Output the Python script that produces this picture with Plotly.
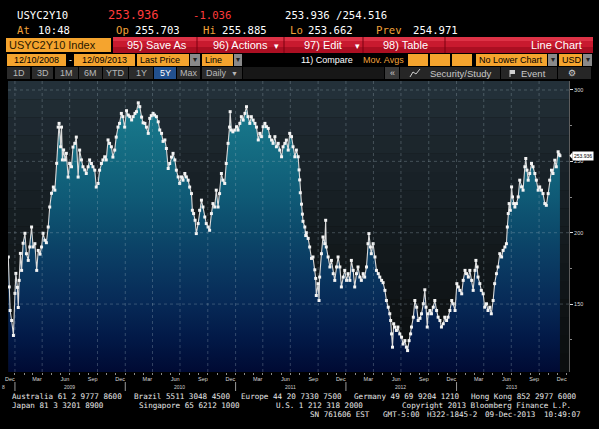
import plotly.graph_objects as go
import pandas as pd

# ---------------- data ----------------
TICKER = "USYC2Y10"
LAST_VALUE = 253.936

DATES_2008 = ["2008-12-10", "2008-12-13", "2008-12-16", "2008-12-21", "2008-12-27"]
VALUES_2008 = [183.0, 162.0, 145.5, 138.5, 128.0]

DATES_2009 = [
    "2009-01-01", "2009-01-04", "2009-01-09", "2009-01-12", "2009-01-15", "2009-01-19", "2009-01-23", "2009-01-28",
    "2009-02-03", "2009-02-08", "2009-02-14", "2009-02-19", "2009-02-25",
    "2009-03-02", "2009-03-08", "2009-03-14", "2009-03-19", "2009-03-25", "2009-03-30",
    "2009-04-04", "2009-04-10", "2009-04-15", "2009-04-21", "2009-04-26",
    "2009-05-02", "2009-05-08", "2009-05-13", "2009-05-19", "2009-05-24", "2009-05-27",
    "2009-06-01", "2009-06-04", "2009-06-07", "2009-06-11", "2009-06-16", "2009-06-20", "2009-06-26",
    "2009-07-01", "2009-07-07", "2009-07-12", "2009-07-18", "2009-07-23", "2009-07-29",
    "2009-08-03", "2009-08-09", "2009-08-14", "2009-08-20", "2009-08-25", "2009-08-31",
    "2009-09-05", "2009-09-11", "2009-09-16", "2009-09-22", "2009-09-27",
    "2009-10-03", "2009-10-08", "2009-10-14", "2009-10-19", "2009-10-25", "2009-10-30",
    "2009-11-05", "2009-11-10", "2009-11-16", "2009-11-21", "2009-11-27",
    "2009-12-02", "2009-12-08", "2009-12-13", "2009-12-19", "2009-12-24", "2009-12-30",
]
VALUES_2009 = [
    157.5, 171.5, 161.7, 147.6, 166.6, 185.5, 173.6, 192.6,
    199.6, 185.3, 180.6, 190.0, 204.0,
    190.0, 192.3, 173.6, 187.6, 185.0, 190.0,
    199.6, 194.7, 193.0, 204.0, 218.0,
    227.6, 232.0, 229.8, 248.6, 274.0, 276.6,
    260.2, 274.0, 251.0, 258.0, 251.0, 255.6, 239.0,
    248.5, 246.2, 260.0, 262.6, 267.0, 239.0,
    257.9, 251.0, 246.2, 244.0, 241.5, 246.2,
    251.0, 248.5, 246.2, 243.8, 232.0,
    234.5, 243.8, 248.5, 251.0, 253.2, 251.0,
    265.0, 262.6, 260.2, 253.0, 257.9,
    267.0, 274.0, 276.6, 283.6, 281.3, 274.0,
]

DATES_2010 = [
    "2010-01-05", "2010-01-11", "2010-01-16", "2010-01-22", "2010-01-27",
    "2010-02-02", "2010-02-07", "2010-02-13", "2010-02-18", "2010-02-24",
    "2010-03-01", "2010-03-07", "2010-03-12", "2010-03-18", "2010-03-23", "2010-03-28",
    "2010-04-03", "2010-04-08", "2010-04-14", "2010-04-20", "2010-04-25",
    "2010-05-01", "2010-05-06", "2010-05-12", "2010-05-17", "2010-05-23", "2010-05-28",
    "2010-06-03", "2010-06-08", "2010-06-14", "2010-06-19", "2010-06-25", "2010-06-30",
    "2010-07-06", "2010-07-11", "2010-07-17", "2010-07-22", "2010-07-28",
    "2010-08-02", "2010-08-08", "2010-08-11", "2010-08-15", "2010-08-20", "2010-08-24", "2010-08-30",
    "2010-09-04", "2010-09-10", "2010-09-15", "2010-09-21", "2010-09-26",
    "2010-10-02", "2010-10-07", "2010-10-13", "2010-10-18", "2010-10-24", "2010-10-29",
    "2010-11-04", "2010-11-09", "2010-11-15", "2010-11-20", "2010-11-26",
    "2010-12-01", "2010-12-07", "2010-12-12", "2010-12-14", "2010-12-18", "2010-12-23", "2010-12-29",
]
VALUES_2010 = [
    285.5, 282.4, 281.3, 279.0, 281.3,
    283.6, 284.8, 291.0, 288.3, 281.0,
    277.0, 276.6, 274.0, 269.6, 280.1, 282.0,
    283.6, 282.4, 281.3, 277.7, 272.0,
    269.6, 264.0, 265.0, 259.0, 245.0, 248.5,
    253.0, 255.6, 251.0, 243.8, 239.1, 234.5,
    239.1, 236.8, 241.5, 239.1, 236.8,
    232.0, 227.4, 215.7, 213.4, 208.7, 199.4, 206.4,
    215.7, 222.8, 218.0, 211.0, 206.4,
    204.0, 201.7, 213.4, 220.4, 218.0, 229.8,
    218.0, 227.4, 241.5, 236.8, 234.5,
    248.5, 262.6, 274.0, 284.8, 271.9, 270.7, 271.9,
]

DATES_2011 = [
    "2011-01-04", "2011-01-09", "2011-01-15", "2011-01-20", "2011-01-26",
    "2011-02-01", "2011-02-06", "2011-02-11", "2011-02-17", "2011-02-22", "2011-02-28",
    "2011-03-06", "2011-03-11", "2011-03-17", "2011-03-22", "2011-03-28",
    "2011-04-02", "2011-04-08", "2011-04-13", "2011-04-19", "2011-04-24", "2011-04-30",
    "2011-05-05", "2011-05-11", "2011-05-16", "2011-05-22", "2011-05-27",
    "2011-06-02", "2011-06-07", "2011-06-13", "2011-06-18", "2011-06-24", "2011-06-29",
    "2011-07-05", "2011-07-10", "2011-07-16", "2011-07-21", "2011-07-27", "2011-07-30",
    "2011-08-01", "2011-08-03", "2011-08-07", "2011-08-10", "2011-08-12", "2011-08-18", "2011-08-21", "2011-08-23", "2011-08-29",
    "2011-09-03", "2011-09-09", "2011-09-14", "2011-09-20", "2011-09-23", "2011-09-25",
    "2011-10-01", "2011-10-04", "2011-10-06", "2011-10-12", "2011-10-17", "2011-10-23", "2011-10-26", "2011-10-28",
    "2011-11-03", "2011-11-09", "2011-11-14", "2011-11-20", "2011-11-25",
    "2011-12-01", "2011-12-06", "2011-12-12", "2011-12-17", "2011-12-23", "2011-12-28",
]
VALUES_2011 = [
    274.3, 271.9, 276.6, 281.3, 278.9,
    283.6, 288.3, 281.3, 276.6, 281.3, 278.9,
    276.6, 274.0, 265.0, 269.6, 267.3,
    274.3, 276.6, 274.3, 273.1, 267.3, 264.9,
    262.6, 267.3, 260.2, 262.6, 257.9,
    253.2, 260.2, 262.6, 264.9, 257.9, 269.6,
    267.3, 260.2, 253.2, 257.9, 253.2, 244.0,
    237.0, 228.0, 220.0, 213.0, 208.0, 204.0, 198.0, 200.0, 196.0,
    190.0, 182.0, 183.0, 174.0, 168.0, 156.0,
    164.3, 152.5, 168.9, 185.3, 197.0, 192.3, 208.7, 190.0,
    183.0, 176.0, 180.6, 171.3, 166.6,
    176.0, 183.0, 176.0, 162.0, 168.9, 173.6,
]

DATES_2012 = [
    "2012-01-03", "2012-01-08", "2012-01-14", "2012-01-19", "2012-01-25", "2012-01-30",
    "2012-02-05", "2012-02-10", "2012-02-16", "2012-02-21", "2012-02-27",
    "2012-03-03", "2012-03-09", "2012-03-14", "2012-03-17", "2012-03-22", "2012-03-25", "2012-03-31",
    "2012-04-06", "2012-04-11", "2012-04-17", "2012-04-22", "2012-04-28",
    "2012-05-03", "2012-05-09", "2012-05-14", "2012-05-20", "2012-05-25", "2012-05-28", "2012-05-31",
    "2012-06-03", "2012-06-07", "2012-06-10", "2012-06-16", "2012-06-21", "2012-06-27",
    "2012-07-03", "2012-07-08", "2012-07-14", "2012-07-19", "2012-07-23", "2012-07-28",
    "2012-08-02", "2012-08-05", "2012-08-11", "2012-08-16", "2012-08-22", "2012-08-27",
    "2012-09-02", "2012-09-07", "2012-09-13", "2012-09-18", "2012-09-22", "2012-09-26", "2012-09-29",
    "2012-10-05", "2012-10-10", "2012-10-16", "2012-10-21", "2012-10-27",
    "2012-11-01", "2012-11-07", "2012-11-12", "2012-11-18", "2012-11-23", "2012-11-29",
    "2012-12-04", "2012-12-10", "2012-12-16", "2012-12-21", "2012-12-27",
]
VALUES_2012 = [
    166.6, 171.3, 166.6, 180.6, 173.6, 162.0,
    171.3, 176.0, 168.9, 166.6, 171.3,
    168.9, 176.0, 192.3, 199.4, 190.0, 185.3, 192.3,
    183.0, 173.6, 171.3, 168.9, 166.6,
    165.0, 159.6, 152.5, 147.8, 143.2, 138.5, 129.1,
    119.8, 136.2, 133.9, 131.5, 133.9, 129.1,
    126.8, 122.0, 124.4, 119.8, 117.4, 124.4,
    129.1, 133.9, 140.8, 152.5, 147.8, 138.5,
    140.0, 143.2, 150.2, 160.0, 147.8, 133.9, 143.2,
    145.5, 143.2, 147.8, 152.5, 145.5,
    140.8, 138.5, 133.9, 136.2, 140.8, 138.5,
    140.8, 145.5, 152.5, 150.2, 145.5,
]

DATES_2013 = [
    "2013-01-02", "2013-01-07", "2013-01-12", "2013-01-18", "2013-01-23", "2013-01-29",
    "2013-02-03", "2013-02-09", "2013-02-14", "2013-02-20", "2013-02-25",
    "2013-03-03", "2013-03-06", "2013-03-10", "2013-03-13", "2013-03-19", "2013-03-24", "2013-03-30",
    "2013-04-04", "2013-04-10", "2013-04-15", "2013-04-21", "2013-04-26",
    "2013-05-02", "2013-05-07", "2013-05-13", "2013-05-18", "2013-05-24", "2013-05-30",
    "2013-06-04", "2013-06-10", "2013-06-15", "2013-06-18", "2013-06-21", "2013-06-24", "2013-06-28",
    "2013-07-02", "2013-07-05", "2013-07-09", "2013-07-13", "2013-07-18", "2013-07-24", "2013-07-29",
    "2013-08-04", "2013-08-09", "2013-08-15", "2013-08-18", "2013-08-22", "2013-08-26", "2013-08-31",
    "2013-09-06", "2013-09-11", "2013-09-17", "2013-09-22", "2013-09-28",
    "2013-10-03", "2013-10-09", "2013-10-14", "2013-10-20", "2013-10-25", "2013-10-31",
    "2013-11-05", "2013-11-11", "2013-11-16", "2013-11-22", "2013-11-27",
    "2013-12-03", "2013-12-06", "2013-12-09",
]
VALUES_2013 = [
    164.3, 162.0, 159.6, 157.2, 166.6, 173.6,
    171.3, 168.9, 173.6, 166.6, 159.6,
    173.6, 180.6, 176.0, 168.9, 164.3, 159.6, 157.2,
    147.8, 150.2, 145.5, 147.8, 143.2,
    152.5, 164.3, 171.3, 176.0, 185.3, 183.0,
    187.6, 190.0, 192.3, 204.0, 213.4, 220.4, 215.7,
    232.1, 225.1, 220.4, 218.0, 220.4, 225.1, 236.8,
    232.1, 229.8, 246.2, 252.0, 243.8, 236.8, 241.5,
    248.5, 246.2, 241.5, 236.8, 229.8,
    232.1, 229.8, 227.4, 220.4, 219.2, 227.4,
    236.8, 243.8, 241.5, 250.8, 246.2,
    256.7, 254.9, LAST_VALUE,
]

Y_TICKS = [150, 200, 250, 300]
Y_MINOR_TICKS = [125, 175, 225, 275]
YEAR_LABELS = ["2009", "2010", "2011", "2012", "2013"]

dates = DATES_2008 + DATES_2009 + DATES_2010 + DATES_2011 + DATES_2012 + DATES_2013
values = VALUES_2008 + VALUES_2009 + VALUES_2010 + VALUES_2011 + VALUES_2012 + VALUES_2013
assert len(dates) == len(values)

# ---------------- geometry / style ----------------
L, R, T, B = 8, 569, 81, 372
PW, PH = R - L, B - T
Y_RANGE = [102.4, 306.3]
X_RANGE = ["2008-12-09", "2014-01-08"]

MONO = "DejaVu Sans Mono"
SANS = "Liberation Sans, Arial, sans-serif"
NARROW = "Liberation Sans Narrow, Liberation Sans, Arial"
ORANGE = "#f5a42e"
ORANGE_TXT = "#f2a33a"
RED_TXT = "#ff3b3b"
DROP_GRAY = "#8a8a8a"

FILL_SCALE = [
    [0.0, "#000a33"], [0.12, "#021947"], [0.25, "#072a57"], [0.38, "#0a3a62"],
    [0.5, "#0c4a6b"], [0.62, "#0f5a76"], [0.75, "#13687f"], [0.88, "#177589"],
    [1.0, "#1b8092"],
]


def px(x):
    return (x - L) / PW


def py(y):
    return (B - y) / PH


shapes = []
annotations = []


def rect(x0, y0, x1, y1, color, layer="above"):
    shapes.append(dict(type="rect", xref="paper", yref="paper",
                       x0=px(x0), x1=px(x1), y0=py(y1), y1=py(y0),
                       fillcolor=color, line=dict(width=0), layer=layer))


def vline(x, y0, y1, color, width=1):
    shapes.append(dict(type="line", xref="paper", yref="paper",
                       x0=px(x), x1=px(x), y0=py(y1), y1=py(y0),
                       line=dict(color=color, width=width), layer="above"))


def label(x, y, text, size, color, family=SANS, anchor="left", bg=None):
    a = dict(xref="paper", yref="paper", x=px(x), y=py(y), text=text,
             showarrow=False, xanchor=anchor, yanchor="middle", borderpad=0,
             font=dict(size=size, color=color, family=family))
    if bg:
        a["bgcolor"] = bg
    annotations.append(a)


# background bands inside plot area (stepped gradient)
top_c = (35, 48, 57)
bot_c = (11, 14, 15)
NB = 16
for i in range(NB):
    f = (i / (NB - 1)) ** 0.75
    c = tuple(int(round(top_c[k] + (bot_c[k] - top_c[k]) * f)) for k in range(3))
    shapes.append(dict(type="rect", xref="paper", yref="paper", x0=0, x1=1,
                       y0=1 - (i + 1) / NB, y1=1 - i / NB,
                       fillcolor="rgb(%d,%d,%d)" % c, line=dict(width=0), layer="below"))

# dotted grid (drawn above the fill as on the terminal)
GRID = "rgba(165,185,195,0.30)"
for d in pd.date_range("2009-01-01", "2013-10-01", freq="QS"):
    ds = d.strftime("%Y-%m-%d")
    shapes.append(dict(type="line", xref="x", yref="paper", x0=ds, x1=ds, y0=0, y1=1,
                       line=dict(color=GRID, width=1, dash="dot"), layer="above"))
for v in Y_TICKS:
    shapes.append(dict(type="line", xref="paper", yref="y", x0=0, x1=1, y0=v, y1=v,
                       line=dict(color=GRID, width=1, dash="dot"), layer="above"))

# year labels & separators under the month labels
for yr in YEAR_LABELS:
    annotations.append(dict(xref="x", yref="paper", x=yr + "-07-01", y=py(387), text=yr,
                            showarrow=False, xanchor="center", yanchor="middle",
                            font=dict(size=5, color="#cfcfcf", family=NARROW)))
    shapes.append(dict(type="line", xref="x", yref="paper", x0=yr + "-01-01", x1=yr + "-01-01",
                       y0=py(391), y1=py(382), line=dict(color="#9a9a9a", width=1), layer="above"))
label(0.5, 387, "8", 5, "#cfcfcf", NARROW)

# last price marker on the right axis
annotations.append(dict(xref="paper", yref="y", x=px(572), y=LAST_VALUE, text="%.3f" % LAST_VALUE,
                        showarrow=False, xanchor="left", yanchor="middle", bgcolor="white",
                        borderpad=1, font=dict(size=5, color="black", family=NARROW)))
ly = B - (LAST_VALUE - Y_RANGE[0]) / (Y_RANGE[1] - Y_RANGE[0]) * PH
shapes.append(dict(type="path", xref="paper", yref="paper",
                   path="M %f %f L %f %f L %f %f Z" % (px(569.5), py(ly), px(572.5), py(ly - 3.5),
                                                       px(572.5), py(ly + 3.5)),
                   fillcolor="white", line=dict(width=0), layer="above"))

# ---------------- header ----------------
label(16, 15, TICKER, 10.6, "white", MONO)
label(107, 15, "253.936", 12, RED_TXT, MONO)
label(192, 15, "-1.036", 10.6, RED_TXT, MONO)
label(284, 15, "253.936 /254.516", 10.6, "white", MONO)

label(16, 30, "At", 10.6, ORANGE_TXT, MONO)
label(37, 30, "10:48", 10.6, "white", MONO)
label(115, 30, "Op", 10.6, ORANGE_TXT, MONO)
label(134, 30, "255.703", 10.6, "white", MONO)
label(202, 30, "Hi", 10.6, ORANGE_TXT, MONO)
label(221, 30, "255.885", 10.6, "white", MONO)
label(289, 30, "Lo", 10.6, ORANGE_TXT, MONO)
label(307, 30, "253.662", 10.6, "white", MONO)
label(375, 30, "Prev", 10.6, ORANGE_TXT, MONO)
label(412, 30, "254.971", 10.6, "white", MONO)

# row 3 : orange ticker box + red menu bar
rect(6, 38, 111, 52, ORANGE)
label(8, 45, TICKER + " Index", 11, "#2a1800", SANS)
rect(113, 37, 593, 41, "#dd3246")
rect(113, 41, 593, 47, "#c81a2f")
rect(113, 47, 593, 53, "#ab0f22")
for xs in (197, 284, 363, 445):
    vline(xs, 37, 53, "#7a0010")
label(157, 45, "95) Save As", 11, "white", SANS, "center")
label(240, 45, "96) Actions", 11, "white", SANS, "center")
label(276, 45.5, "▾", 9, "white", SANS, "center")
label(323, 45, "97) Edit", 11, "white", SANS, "center")
label(357, 45.5, "▾", 9, "white", SANS, "center")
label(405, 45, "98) Table", 11, "white", SANS, "center")
label(583, 45, "Line Chart", 11, "white", SANS, "right")

# row 4 : date range / options
RY = 59.5
rect(7, 54, 66, 66, ORANGE)
label(36.5, RY, "12/10/2008", 9, "black", SANS, "center")
label(70, RY, "-", 9, "white", SANS, "center")
rect(74, 54, 135, 66, ORANGE)
label(104.5, RY, "12/09/2013", 9, "black", SANS, "center")
rect(137, 54, 189, 66, ORANGE)
label(139, RY, "Last Price", 9, "black", SANS)
rect(190, 54, 200, 66, DROP_GRAY)
label(195, RY, "▾", 8, "#222222", SANS, "center")
rect(202, 54, 233, 66, ORANGE)
label(204, RY, "Line", 9, "black", SANS)
rect(234, 54, 242, 66, DROP_GRAY)
label(238, RY, "▾", 8, "#222222", SANS, "center")
label(300, RY, "11) Compare", 9, "white", SANS)
label(362, RY, "Mov. Avgs", 9, ORANGE_TXT, SANS)
for x0 in (408, 430, 452):
    rect(x0, 54, x0 + 20, 66, ORANGE)
rect(476, 54, 547, 66, ORANGE)
label(478, RY, "No Lower Chart", 9, "black", SANS)
rect(548, 54, 557, 66, DROP_GRAY)
label(552.5, RY, "▾", 8, "#222222", SANS, "center")
rect(559, 54, 582, 66, ORANGE)
label(561, RY, "USD", 9, "black", SANS)
rect(583, 54, 592, 66, DROP_GRAY)
label(587.5, RY, "▾", 8, "#222222", SANS, "center")

# row 5 : period buttons
BY = 73
buttons = [("1D", 7, 30), ("3D", 32, 53), ("1M", 55, 78), ("6M", 79, 102), ("YTD", 103, 128),
           ("1Y", 129, 153), ("5Y", 154, 176), ("Max", 177, 200)]
for txt, x0, x1 in buttons:
    sel = txt == "5Y"
    rect(x0, 67, x1, 79, "#22508e" if sel else "#2b2b2b")
    label((x0 + x1) / 2, BY, txt, 9, "white" if sel else "#b8b8b8", SANS, "center")
rect(202, 67, 242, 79, "#2b2b2b")
label(205, BY, "Daily", 9, "#b8b8b8", SANS)
label(234, BY, "▼", 7, "#b8b8b8", SANS, "center")
rect(243, 67, 384, 79, "#171717")
rect(385, 67, 399, 79, "#3a3a3a")
label(392, BY, "«", 9, "#d0d0d0", SANS, "center")
rect(400, 67, 500, 79, "#262626")
shapes.append(dict(type="path", xref="paper", yref="paper",
                   path="M %f %f L %f %f L %f %f L %f %f" % (px(410), py(77), px(413), py(72),
                                                            px(416), py(74), px(420), py(69)),
                   line=dict(color="#d0d0d0", width=1), layer="above"))
label(429, BY, "Security/Study", 9.5, "#c8c8c8", SANS)
rect(501, 67, 557, 79, "#262626")
rect(510, 70, 515, 74, "#d0d0d0")
vline(510, 70, 77, "#d0d0d0")
label(520, BY, "Event", 9.5, "#c8c8c8", SANS)
rect(558, 67, 591, 79, "#262626")
label(572, BY, "⚙", 9, "#d0d0d0", "DejaVu Sans", "center")

# ---------------- footer (segments placed on a fixed character grid) ----------------
NB_SP = "\u00a0"
COL_W = 4.88
FOOT_ROWS = [
    (396, [(0, "Australia 61 2 9777 8600"), (25, "Brazil 5511 3048 4500"),
           (47, "Europe 44 20 7330 7500"), (70, "Germany 49 69 9204 1210"),
           (94, "Hong Kong 852 2977 6000")]),
    (405, [(0, "Japan 81 3 3201 8900"), (26, "Singapore 65 6212 1000"),
           (54, "U.S. 1 212 318 2000"), (80, "Copyright 2013 Bloomberg Finance L.P.")]),
    (414, [(61, "SN 761606 EST"), (76, "GMT-5:00"), (85, "H322-1845-2"),
           (97, "09-Dec-2013"), (109, "10:49:07")]),
]
for yrow, segs in FOOT_ROWS:
    for col, txt in segs:
        label(11 + col * COL_W, yrow, txt.replace(" ", NB_SP), 7.6, "#e8e8e8", MONO)

# ---------------- figure ----------------
month_ticks = pd.date_range("2008-12-01", "2013-12-01", freq="3MS") + pd.Timedelta(days=14)

fig = go.Figure(go.Scatter(
    x=dates, y=values, mode="lines+markers", fill="tozeroy",
    fillgradient=dict(type="vertical", colorscale=FILL_SCALE, start=Y_RANGE[0], stop=300),
    line=dict(color="#dadada", width=1.1),
    marker=dict(symbol="square", size=3, color="#f4f4f4", line=dict(width=0)),
    hoverinfo="skip", showlegend=False,
))

fig.update_layout(
    width=599, height=429, autosize=False,
    margin=dict(l=L, r=599 - R, t=T, b=429 - B, pad=0),
    paper_bgcolor="black", plot_bgcolor="#0d1012",
    showlegend=False, shapes=shapes, annotations=annotations,
    xaxis=dict(
        type="date", range=X_RANGE, showgrid=False, zeroline=False, showline=False,
        tickmode="array", tickvals=[d.strftime("%Y-%m-%d") for d in month_ticks],
        ticktext=[d.strftime("%b") for d in month_ticks], ticks="",
        tickfont=dict(size=5.5, color="#d8d8d8", family=NARROW), ticklabelstandoff=2,
        automargin=False, fixedrange=True,
        minor=dict(ticks="outside", ticklen=2, tickcolor="#8a8a8a", dtick="M1",
                   tick0="2009-01-01", showgrid=False),
    ),
    yaxis=dict(
        side="right", range=Y_RANGE, showgrid=False, zeroline=False,
        showline=True, linecolor="#5c5c5c", linewidth=1,
        tickmode="array", tickvals=Y_TICKS, ticks="outside", ticklen=3, tickcolor="#dddddd",
        tickfont=dict(size=5.5, color="#dddddd", family=NARROW), automargin=False, fixedrange=True,
        minor=dict(tickmode="array", tickvals=Y_MINOR_TICKS, ticks="outside", ticklen=2,
                   tickcolor="#888888"),
    ),
)

# the page's default 8px body margin would shift the whole picture; remove it
fig.write_html("out.html", config={"displayModeBar": False},
               post_script="document.body.style.margin='0px'; document.body.style.background='black';")
